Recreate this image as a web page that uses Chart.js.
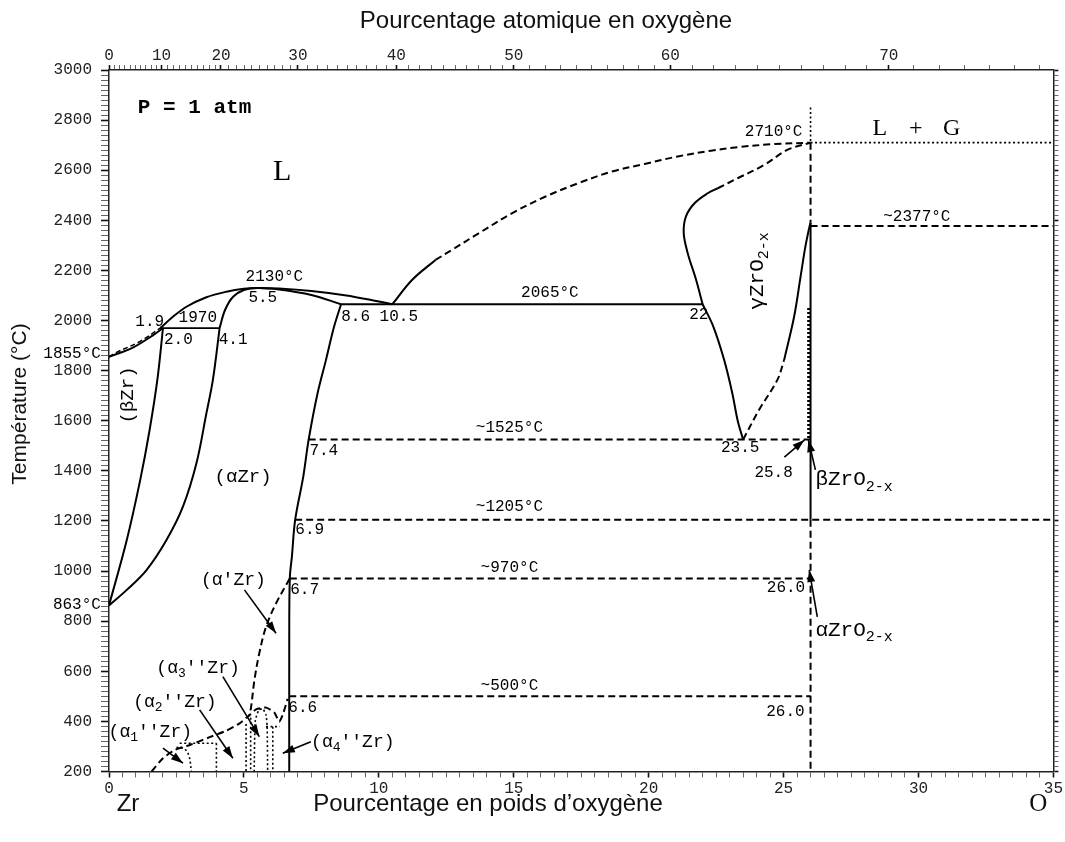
<!DOCTYPE html>
<html><head><meta charset="utf-8">
<script src="https://cdn.jsdelivr.net/npm/chart.js@4.4.1/dist/chart.umd.min.js"></script>
<style>html,body{margin:0;padding:0;background:#fff;}canvas{display:block;}</style>
</head><body>
<canvas id="c" width="1065" height="842"></canvas>
<script>
// ---------- tick values ----------
const bottomTicks = [0,5,10,15,20,25,30,35];
const yLabelTicks = [200,400,600,800,1000,1200,1400,1600,1800,2000,2200,2400,2600,2800,3000];
const topTickAt = [0,10,20,30,40,50,60,70];          // atomic % O
const topTickWt = [0,1.95,4.15,7.0,10.65,15.0,20.8,28.9]; // position in wt % O

// ---------- phase boundaries (wt% O, °C) ----------
const liqBetaSolid   = [[0,1855],[0.9,1893],[1.64,1942],[2.0,1970]];
const liqBetaDashed  = [[0,1855],[0.3,1874],[1.14,1916],[1.9,1970]];
const liquidusAlpha  = [[1.9,1970],[2.37,2015],[2.87,2055],[3.61,2093],[4.35,2115],[5.0,2127],[5.5,2130],[6.3,2128],[7.5,2118],[8.8,2100],[9.8,2080],[10.5,2065]];
const solidusAlpha   = [[4.1,1970],[4.3,2042],[4.6,2095],[5.0,2122],[5.5,2130],[6.3,2124],[7.5,2102],[8.6,2065]];
const betaBoundary   = [[2.0,1970],[1.8,1770],[1.5,1560],[1.15,1360],[0.65,1120],[0,863]];
const alphaBoundary  = [[4.1,1970],[3.85,1763],[3.61,1630],[3.24,1430],[2.74,1257],[2.13,1124],[1.39,1004],[0.65,924],[0,863]];
const alphaSolvus    = [[8.6,2065],[8.34,1975],[8.04,1842],[7.73,1710],[7.4,1525],[7.2,1377],[6.9,1205],[6.78,1060],[6.7,970],[6.68,700],[6.68,200]];
const liqOxideSolid  = [[10.5,2065],[11.23,2162],[12.1,2242]];
const liqOxideDashed = [[12.1,2242],[12.71,2282],[13.7,2348],[14.93,2428],[16.16,2494],[17.39,2548],[18.62,2594],[19.85,2625],[21.08,2655],[22.31,2678],[23.3,2692],[24.6,2704],[26,2710]];
const gammaLeftSolid = [[22.0,2065],[21.76,2162],[21.45,2268],[21.3,2348],[21.38,2415],[21.7,2468],[22.19,2508],[22.56,2528]];
const gammaLeftDash  = [[22.56,2528],[23.3,2568],[24.28,2621],[25.14,2681],[26,2710]];
const gammaLower     = [[22,2065],[22.4,1975],[22.8,1842],[23.1,1710],[23.3,1600],[23.5,1525]];
const gammaRightDash = [[23.5,1525],[24.1,1645],[24.77,1763],[25.02,1842]];
const gammaRightSolid= [[25.02,1842],[25.39,2015],[25.63,2175],[25.8,2290],[25.95,2370],[26,2390]];
const v26Dotted      = [[26,2850],[26,2710]];
const v26DashedTop   = [[26,2710],[26,2390]];
const v26Solid       = [[26,2390],[26,1205]];
const v26Wavy        = [[25.93,2050],[25.93,1525]];
const v26DashedLow   = [[26,1205],[26,200]];
const iso2065 = [[8.6,2065],[22,2065]];
const iso1970 = [[1.9,1970],[4.1,1970]];
const iso1525 = [[7.4,1525],[26,1525]];
const iso1205 = [[6.9,1205],[35,1205]];
const iso970  = [[6.7,970],[26,970]];
const iso500  = [[6.68,500],[26,500]];
const iso2377 = [[26,2377],[35,2377]];
const iso2710 = [[26,2710],[35,2710]];
// low temperature ordered phases
const alphaPrimeBound = [[6.7,970],[6.19,871],[5.82,778],[5.57,672],[5.39,565],[5.27,460],[5.2,420]];
const orderEnvelope   = [[1.58,200],[2.0,253],[2.44,286],[3.0,306],[3.73,337],[4.35,363],[4.84,392],[5.14,419],[5.45,448],[5.82,455],[6.13,435],[6.31,399],[6.45,430],[6.62,490]];
const dome1     = [[2.5,297],[2.8,290],[2.97,260],[3.05,200]];
const ordTop2   = [[2.62,313],[3.98,313]];
const ordWall2  = [[3.98,313],[3.98,200]];
const ordWall3a = [[5.08,390],[5.08,200]];
const ordWall3b = [[5.25,415],[5.25,200]];
const dome3     = [[5.38,200],[5.42,400],[5.55,445],[5.7,450],[5.82,425],[5.86,380],[5.88,200]];
const ordTop4   = [[5.82,379],[6.33,379]];
const ordWall4  = [[6.07,379],[6.07,200]];
// arrows (tail -> head)
const arrowAlphaP  = [[5.02,925],[6.19,752]];
const arrowA3      = [[4.22,579],[5.57,339]];
const arrowA2      = [[3.36,446],[4.59,253]];
const arrowA1      = [[2.0,293],[2.74,233]];
const arrowA4      = [[7.48,319],[6.44,273]];
const arrow258     = [[25.03,1455],[25.77,1523]];
const arrowBeta    = [[26.18,1404],[25.92,1523]];
const arrowAlphaOx = [[26.25,817],[25.95,1004]];

// ---------- text annotations ----------
const notes = [
  {t:'P = 1 atm', x:1.07, y:2848, f:'bold', s:21, a:'left'},
  {t:'L', x:6.42, y:2593, f:'serif', s:30},
  {t:'L', x:28.57, y:2767, f:'serif', s:24},
  {t:'+', x:29.9, y:2767, f:'serif', s:24},
  {t:'G', x:31.23, y:2767, f:'serif', s:24},
  {t:'2710°C', x:25.7, y:2753, s:16, a:'right'},
  {t:'~2377°C', x:29.94, y:2413, s:16},
  {t:'2130°C', x:6.13, y:2174, s:16},
  {t:'5.5', x:5.7, y:2090, s:16},
  {t:'1.9', x:1.51, y:1994, s:16},
  {t:'1970', x:3.29, y:2010, s:16},
  {t:'2.0', x:2.57, y:1922, s:16},
  {t:'4.1', x:4.6, y:1922, s:16},
  {t:'1855°C', x:-0.3, y:1866, s:16, a:'right'},
  {t:'863°C', x:-0.3, y:865, s:16, a:'right'},
  {t:'8.6', x:9.14, y:2014, s:16},
  {t:'10.5', x:10.74, y:2014, s:16},
  {t:'2065°C', x:16.34, y:2110, s:16},
  {t:'22', x:21.86, y:2022, s:16},
  {t:'~1525°C', x:14.84, y:1571, s:16},
  {t:'7.4', x:7.96, y:1479, s:16},
  {t:'~1205°C', x:14.84, y:1256, s:16},
  {t:'6.9', x:7.44, y:1164, s:16},
  {t:'~970°C', x:14.84, y:1012, s:16},
  {t:'6.7', x:7.25, y:925, s:16},
  {t:'~500°C', x:14.84, y:541, s:16},
  {t:'6.6', x:7.18, y:454, s:16},
  {t:'26.0', x:25.09, y:932, s:16},
  {t:'26.0', x:25.07, y:438, s:16},
  {t:'23.5', x:23.39, y:1491, s:16},
  {t:'25.8', x:24.63, y:1392, s:16},
  {t:'βZrO{2-x}', x:26.18, y:1364, s:21, a:'left'},
  {t:'αZrO{2-x}', x:26.18, y:765, s:21, a:'left'},
  {t:'γZrO{2-x}', x:24.03, y:2198, s:21, rot:true},
  {t:'(βZr)', x:0.7, y:1703, s:19, rot:true},
  {t:'(αZr)', x:4.97, y:1376, s:19},
  {t:"(α'Zr)", x:4.61, y:964, s:18},
  {t:"(α{3}''Zr)", x:3.3, y:613, s:18},
  {t:"(α{2}''Zr)", x:2.44, y:477, s:18},
  {t:"(α{1}''Zr)", x:1.53, y:358, s:18},
  {t:"(α{4}''Zr)", x:7.49, y:318, s:18, a:'left'}
];

// ---------- dataset builder ----------
const SOLID = [], DASH = [7,4], DOT = [2,2.5];
function mk(pts, dash, opts){
  return Object.assign({
    data: pts.map(p => ({x:p[0], y:p[1]})),
    showLine:true, pointRadius:0, pointHoverRadius:0,
    borderColor:'#000', backgroundColor:'#000',
    borderWidth: dash === DOT ? 1.6 : 2,
    borderDash: dash, tension: pts.length > 2 ? 0.35 : 0, fill:false
  }, opts || {});
}
const datasets = [
  mk(liqBetaSolid, SOLID), mk(liqBetaDashed, [5,3], {borderWidth:1.5}),
  mk(liquidusAlpha, SOLID), mk(solidusAlpha, SOLID),
  mk(betaBoundary, SOLID), mk(alphaBoundary, SOLID), mk(alphaSolvus, SOLID),
  mk(liqOxideSolid, SOLID), mk(liqOxideDashed, DASH),
  mk(gammaLeftSolid, SOLID), mk(gammaLeftDash, DASH), mk(gammaLower, SOLID),
  mk(gammaRightDash, DASH), mk(gammaRightSolid, SOLID),
  mk(v26Dotted, DOT), mk(v26DashedTop, DASH), mk(v26Solid, SOLID),
  mk(v26Wavy, [2,2], {borderWidth:3}), mk(v26DashedLow, DASH),
  mk(iso2065, SOLID, {borderWidth:1.8}), mk(iso1970, SOLID, {borderWidth:1.8}),
  mk(iso1525, DASH), mk(iso1205, DASH), mk(iso970, DASH), mk(iso500, DASH),
  mk(iso2377, DASH), mk(iso2710, DOT),
  mk(alphaPrimeBound, DASH), mk(orderEnvelope, DASH, {tension:0.2}),
  mk(dome1, DOT), mk(ordTop2, DOT), mk(ordWall2, DOT), mk(ordWall3a, DOT), mk(ordWall3b, DOT),
  mk(dome3, DOT, {tension:0.2}), mk(ordTop4, DOT), mk(ordWall4, DOT)
];
[arrowAlphaP, arrowA3, arrowA2, arrowA1, arrowA4, arrow258, arrowBeta, arrowAlphaOx].forEach(a => {
  datasets.push(mk(a, SOLID, {borderWidth:1.6, arrow:true}));
});

// ---------- axis tick lists ----------
const bottomTickList = [];
for (let i = 0; i <= 70; i++) bottomTickList.push({value: i * 0.5});
const yTickList = [];
for (let v = 200; v <= 3000; v += 20) yTickList.push({value: v});
const topTickList = [];
for (let k = 0; k < topTickAt.length - 1; k++) {
  const w0 = topTickWt[k], w1 = topTickWt[k+1];
  for (let j = 0; j < 10; j++) topTickList.push({value: w0 + (w1 - w0) * j / 10, lab: j === 0 ? String(topTickAt[k]) : ''});
}
topTickList.push({value: topTickWt[topTickWt.length-1], lab: String(topTickAt[topTickAt.length-1])});
{ const st = (topTickWt[7] - topTickWt[6]) / 10 * 1.15; let w = topTickWt[7] + st;
  while (w < 35) { topTickList.push({value: w, lab: ''}); w += st; } }

const MONO = '"Liberation Mono", "DejaVu Sans Mono", monospace';
const tickFont = {family: MONO, size: 16};
const isMajorY = v => v % 200 === 0;

// ---------- plugin: arrowheads, labels, titles ----------
function parts(t){
  const out = []; const re = /\{([^}]*)\}/g; let last = 0, m;
  while ((m = re.exec(t))) {
    if (m.index > last) out.push({s: t.slice(last, m.index), sub: false});
    out.push({s: m[1], sub: true}); last = re.lastIndex;
  }
  if (last < t.length) out.push({s: t.slice(last), sub: false});
  return out;
}
function fontFor(n, size){
  if (n.f === 'serif') return size + 'px "Liberation Serif", "DejaVu Serif", serif';
  if (n.f === 'bold') return 'bold ' + size + 'px ' + MONO;
  return size + 'px ' + MONO;
}
const overlay = {
  id: 'overlay',
  afterDatasetsDraw(chart){
    const ctx = chart.ctx, xs = chart.scales.x, ys = chart.scales.y;
    chart.data.datasets.forEach((ds, i) => {
      if (!ds.arrow) return;
      const el = chart.getDatasetMeta(i).data;
      const a = el[el.length-2], b = el[el.length-1];
      const ang = Math.atan2(b.y - a.y, b.x - a.x);
      ctx.save(); ctx.fillStyle = '#000'; ctx.translate(b.x, b.y); ctx.rotate(ang);
      ctx.beginPath(); ctx.moveTo(0, 0); ctx.lineTo(-12, -4); ctx.lineTo(-12, 4); ctx.closePath(); ctx.fill();
      ctx.restore();
    });
    notes.forEach(n => {
      const px = xs.getPixelForValue(n.x), py = ys.getPixelForValue(n.y);
      const ps = parts(n.t);
      ctx.save();
      ctx.fillStyle = '#000'; ctx.textBaseline = 'middle'; ctx.textAlign = 'left';
      let w = 0;
      ps.forEach(p => { ctx.font = fontFor(n, p.sub ? Math.round(n.s*0.72) : n.s); p.w = ctx.measureText(p.s).width; w += p.w; });
      ctx.translate(px, py);
      if (n.rot) ctx.rotate(-Math.PI/2);
      let x0 = -w/2;
      if (!n.rot && n.a === 'left') x0 = 0;
      if (!n.rot && n.a === 'right') x0 = -w;
      ps.forEach(p => {
        ctx.font = fontFor(n, p.sub ? Math.round(n.s*0.72) : n.s);
        ctx.fillText(p.s, x0, p.sub ? n.s*0.32 : 0);
        x0 += p.w;
      });
      ctx.restore();
    });
  },
  afterDraw(chart){
    const ctx = chart.ctx, ca = chart.chartArea;
    ctx.save();
    ctx.fillStyle = '#111'; ctx.textBaseline = 'middle'; ctx.textAlign = 'center';
    ctx.font = '24px "Liberation Sans", Arial, sans-serif';
    ctx.fillText('Pourcentage atomique en oxygène', ca.left + 437, 21);
    ctx.font = '24px "Liberation Sans Narrow", "Liberation Sans", Arial, sans-serif';
    ctx.fillText('Pourcentage en poids d\u2019oxygène', ca.left + 379, 804);
    ctx.fillText('Zr', ca.left + 19, 804);
    ctx.font = '25px "Liberation Serif", serif';
    ctx.fillText('O', ca.right - 15, 804);
    ctx.translate(20, 404); ctx.rotate(-Math.PI/2);
    ctx.font = '21px "Liberation Sans", Arial, sans-serif';
    ctx.fillText('Température (°C)', 0, 0);
    ctx.restore();
  }
};

const majorTick = c => c.tick && (c.scale.id[0] === 'y' ? isMajorY(c.tick.value) : (c.tick.lab !== undefined ? c.tick.lab !== '' : bottomTicks.includes(c.tick.value)));
const gridTicks = (len) => ({
  drawOnChartArea: false, drawTicks: true, tickLength: len,
  tickColor: c => majorTick(c) ? '#111' : '#666',
  tickWidth: c => majorTick(c) ? 1.6 : 1
});
const border = {display: true, color: '#222', width: 1.5};

new Chart(document.getElementById('c'), {
  type: 'scatter',
  data: {datasets},
  options: {
    responsive: false, animation: false,
    layout: {padding: 0},
    plugins: {legend: {display: false}, tooltip: {enabled: false}, title: {display: false}},
    scales: {
      x: {type: 'linear', position: 'bottom', min: 0, max: 35,
          afterBuildTicks: s => { s.ticks = bottomTickList.map(t => ({value: t.value})); },
          afterFit: s => { s.height = 70.5; },
          ticks: {autoSkip: false, maxRotation: 0, padding: 2, font: tickFont, color: '#222',
                  callback: v => bottomTicks.includes(v) ? String(v) : ''},
          grid: gridTicks(6), border},
      x2: {type: 'linear', position: 'top', min: 0, max: 35,
          afterBuildTicks: s => { s.ticks = topTickList.map(t => ({value: t.value, lab: t.lab})); },
          afterFit: s => { s.height = 70; },
          ticks: {autoSkip: false, maxRotation: 0, padding: 0, font: tickFont, color: '#222',
                  callback: (v, i, t) => t[i].lab || ''},
          grid: gridTicks(5), border},
      y: {type: 'linear', position: 'left', min: 200, max: 3000,
          afterBuildTicks: s => { s.ticks = yTickList.map(t => ({value: t.value})); },
          afterFit: s => { s.width = 109; },
          ticks: {autoSkip: false, padding: 9, font: tickFont, color: '#222',
                  callback: v => yLabelTicks.includes(v) ? String(v) : ''},
          grid: gridTicks(8), border},
      y2: {type: 'linear', position: 'right', min: 200, max: 3000,
          afterBuildTicks: s => { s.ticks = yTickList.map(t => ({value: t.value})); },
          afterFit: s => { s.width = 8; },
          ticks: {display: false},
          grid: gridTicks(5), border}
    }
  },
  plugins: [overlay]
});
</script>
</body></html>
